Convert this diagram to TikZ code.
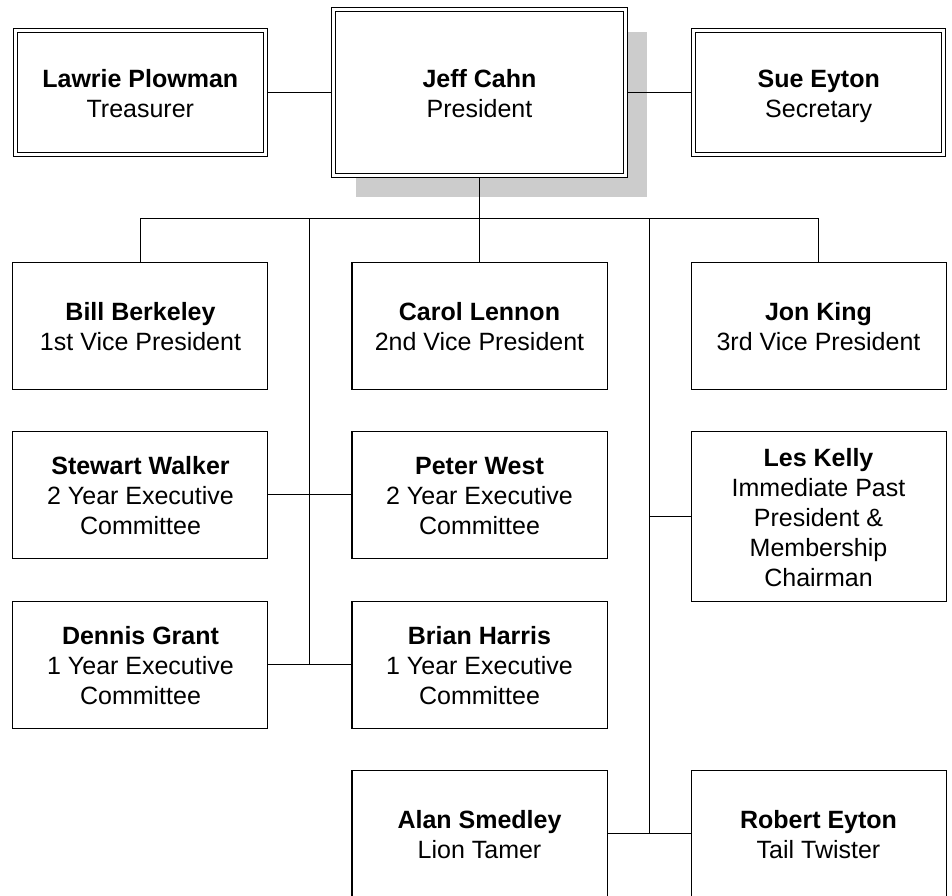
\documentclass[tikz,border=0pt]{standalone}
\usepackage{fontspec}
\setmainfont{Liberation Sans}
\usetikzlibrary{positioning,calc,shadows}

\newcommand{\who}[1]{\rule{0pt}{29pt}\textbf{#1}}

\begin{document}
\begin{tikzpicture}[x=1pt,y=1pt,line width=1pt,font=\fontsize{25}{30}\selectfont,
    base/.style={rectangle,draw,fill=white,line width=1pt,inner sep=0pt,outer sep=0pt,
        minimum width=255pt,minimum height=127pt,align=center,
        execute at end node=\strut},
    head/.style={base,double,double distance=3pt,line width=1.2pt,
        minimum width=250pt,minimum height=123.6pt},
    tie/.style={shorten <=2.7pt,shorten >=2.7pt}]

    \useasboundingbox (-479.5,92.5) rectangle (472.5,-802.5);

    \node[head, minimum width=291.6pt, minimum height=165.6pt,
        drop shadow={shadow xshift=22pt,shadow yshift=-22pt,fill=black!20,opacity=1}] (Pres) at (0,0)
    { \who{Jeff Cahn}\\President };

    \node[head, left=68.4pt of Pres] (Trs)
    { \who{Lawrie Plowman}\\Treasurer };

    \node[head, right=68.4pt of Pres] (Sec)
    { \who{Sue Eyton}\\Secretary };

    \node[base, below=86.7pt of Pres] (VP2)
    { \who{Carol Lennon}\\2nd Vice President };

    \node[base, left=84pt of VP2] (VP1)
    { \who{Bill Berkeley}\\1st Vice President };

    \node[base, right=84pt of VP2] (VP3)
    { \who{Jon King}\\3rd Vice President };

    \node[base, below=42pt of VP2] (Y2B)
    { \who{Peter West}\\2 Year Executive\\Committee };

    \node[base, left=84pt of Y2B] (Y2A)
    { \who{Stewart Walker}\\2 Year Executive\\Committee };

    \node[base, below=43pt of Y2B] (Y1B)
    { \who{Brian Harris}\\1 Year Executive\\Committee };

    \node[base, left=84pt of Y1B] (Y1A)
    { \who{Dennis Grant}\\1 Year Executive\\Committee };

    \node[base, below=42pt of VP3, minimum height=170pt] (PP)
    { \who{Les Kelly}\\Immediate Past\\President \&\\Membership\\Chairman };

    \node[base, below=42pt of Y1B] (LT)
    { \who{Alan Smedley}\\Lion Tamer };

    \node[base, right=84pt of LT] (TT)
    { \who{Robert Eyton}\\Tail Twister };

    \coordinate (bus) at ($(Pres.south)!0.5!(VP2.north)$);
    \coordinate (lt) at ($(VP1.east)!0.5!(VP2.west)$);
    \coordinate (rt) at ($(VP2.east)!0.5!(VP3.west)$);

    \draw[tie] (Trs) -- (Pres);
    \draw[tie] (Pres) -- (Sec);
    \draw[shorten <=2.7pt] (Pres) -- (VP2);
    \draw (VP1) |- (bus) -| (VP3);

    \draw (lt |- bus) -- (lt |- Y1B.west);
    \draw (Y2A) -- (Y2B);
    \draw (Y1A) -- (Y1B);

    \draw (rt |- bus) -- (rt |- LT.east);
    \draw (rt |- PP.west) -- (PP);
    \draw (LT) -- (TT);
\end{tikzpicture}
\end{document}
